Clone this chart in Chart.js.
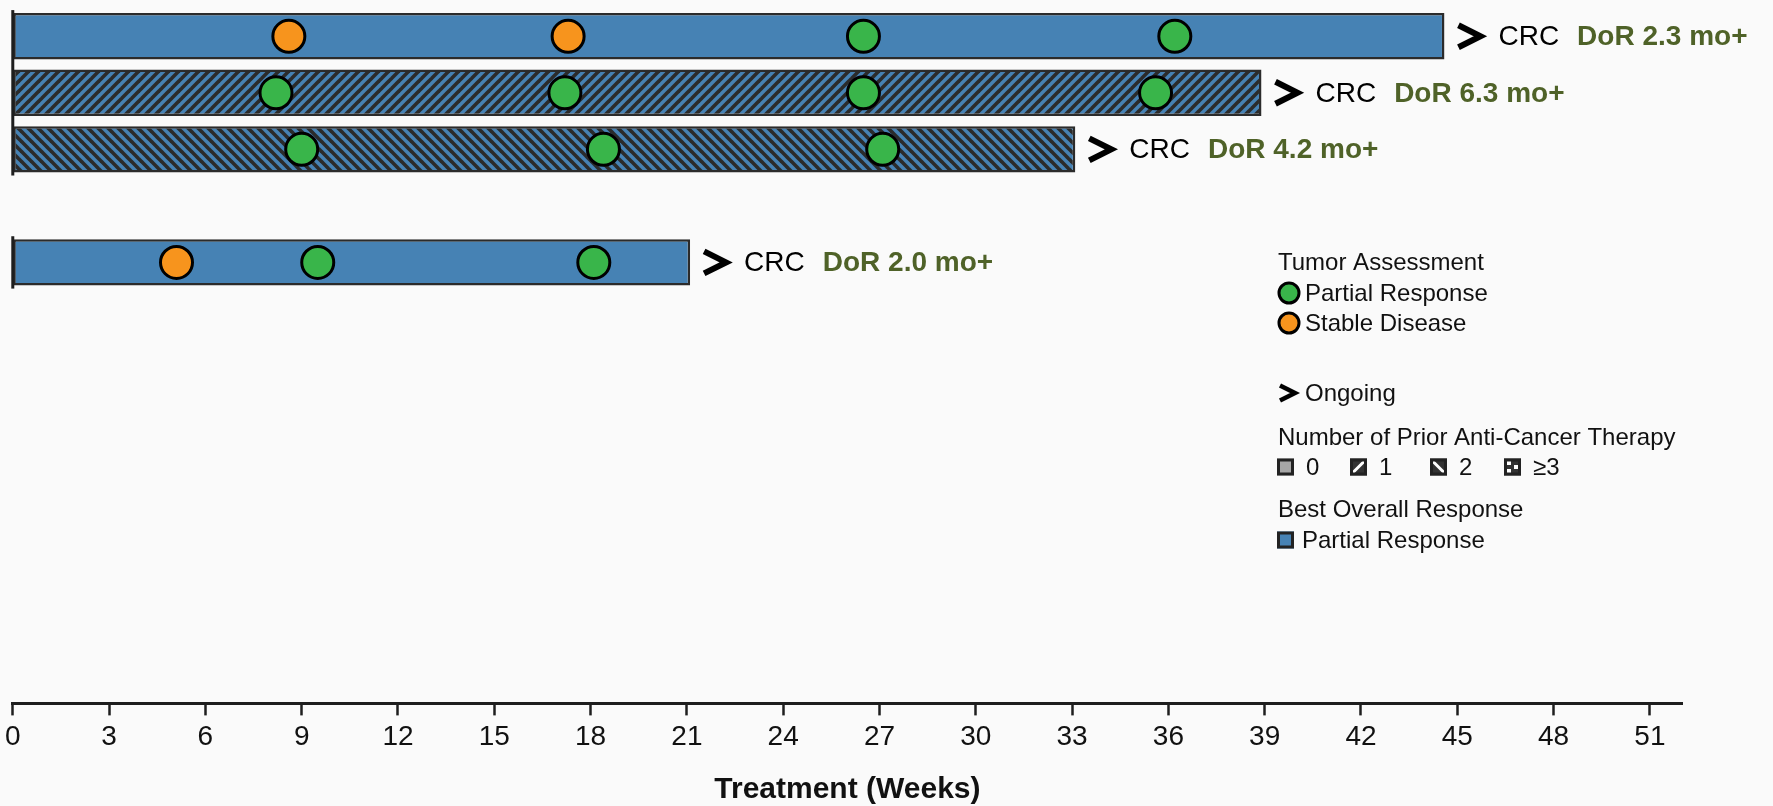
<!DOCTYPE html>
<html>
<head>
<meta charset="utf-8">
<script src="https://cdn.jsdelivr.net/npm/chart.js@4"></script>
<style>
  html, body { margin: 0; padding: 0; background: #fafafa; }
  #wrap { width: 1773px; height: 806px; position: relative; }
</style>
</head>
<body>
<div id="wrap"><canvas id="chartcanvas"></canvas></div>
<script>
// patient rows (row 4 is left empty in the original)
const rows = [1, 2, 3, 5];
const weeksOnTreatment = [44.6, 38.9, 33.1, 21.1];
const priorTherapies = [0, 1, 2, 0];
const tumorTypes = ["CRC", "CRC", "CRC", "CRC"];
const dorLabels = ["DoR 2.3 mo+", "DoR 6.3 mo+", "DoR 4.2 mo+", "DoR 2.0 mo+"];
const ongoing = [true, true, true, true];

// tumor assessments (weeks), one list per patient
const prWeeks = [[26.5, 36.2], [8.2, 17.2, 26.5, 35.6], [9.0, 18.4, 27.1], [9.5, 18.1]];
const sdWeeks = [[8.6, 17.3], [], [], [5.1]];

const xMax = 52;
const xStep = 3;

const FONT = "'Liberation Sans', Arial, sans-serif";
const BLUE = "rgb(70, 130, 180)";
const DARK = "#2b2b2b";
const GREEN = "#39b54a";
const ORANGE = "#f7941d";
const OLIVE = "#4f6228";

function hatch(dir) {
  const c = document.createElement("canvas");
  c.width = 10;
  c.height = 10;
  const g = c.getContext("2d");
  g.fillStyle = BLUE;
  g.fillRect(0, 0, 10, 10);
  g.strokeStyle = DARK;
  g.lineWidth = 3.6;
  for (const s of [-10, 0, 10]) {
    g.beginPath();
    if (dir === 1) {
      g.moveTo(s - 2, 12);
      g.lineTo(s + 12, -2);
    } else {
      g.moveTo(s - 2, -2);
      g.lineTo(s + 12, 12);
    }
    g.stroke();
  }
  return g.createPattern(c, "repeat");
}

const fills = priorTherapies.map((n) => (n === 0 ? BLUE : hatch(n)));

const prPoints = [];
const sdPoints = [];
prWeeks.forEach((list, i) => list.forEach((w) => prPoints.push({ x: w, y: rows[i] })));
sdWeeks.forEach((list, i) => list.forEach((w) => sdPoints.push({ x: w, y: rows[i] })));

function chevron(ctx, x, y, w, h, lw) {
  ctx.save();
  ctx.strokeStyle = "#000";
  ctx.lineWidth = lw;
  ctx.lineJoin = "miter";
  ctx.beginPath();
  ctx.moveTo(x, y - h / 2);
  ctx.lineTo(x + w, y);
  ctx.lineTo(x, y + h / 2);
  ctx.stroke();
  ctx.restore();
}

// left axis drawn only beside groups of bars
const leftLine = {
  id: "leftLine",
  afterDatasetsDraw(chart) {
    const ctx = chart.ctx;
    const bars = chart.getDatasetMeta(0).data;
    const x = chart.chartArea.left;
    let start = 0;
    ctx.save();
    ctx.strokeStyle = "#1e1e1e";
    ctx.lineWidth = 3;
    for (let i = 0; i < rows.length; i++) {
      if (i === rows.length - 1 || rows[i + 1] !== rows[i] + 1) {
        const top = bars[start].y - bars[start].height / 2 - 3;
        const bot = bars[i].y + bars[i].height / 2 + 3;
        ctx.beginPath();
        ctx.moveTo(x, top);
        ctx.lineTo(x, bot);
        ctx.stroke();
        start = i + 1;
      }
    }
    ctx.restore();
  },
};

const barLabels = {
  id: "barLabels",
  afterDatasetsDraw(chart) {
    const ctx = chart.ctx;
    const bars = chart.getDatasetMeta(0).data;
    ctx.save();
    ctx.textBaseline = "middle";
    bars.forEach((bar, i) => {
      let x = bar.x + 14;
      if (ongoing[i]) chevron(ctx, x, bar.y, 22, 22, 6);
      x += 40;
      ctx.font = "28px " + FONT;
      ctx.fillStyle = "#000";
      ctx.fillText(tumorTypes[i], x, bar.y + 1);
      x += ctx.measureText(tumorTypes[i]).width + 18;
      ctx.font = "bold 28px " + FONT;
      ctx.fillStyle = OLIVE;
      ctx.fillText(dorLabels[i], x, bar.y + 1);
    });
    ctx.restore();
  },
};

function swatch(ctx, x, y, kind) {
  const s = 17;
  ctx.save();
  ctx.fillStyle = kind === "0" ? "#a6a6a6" : kind === "pr" ? BLUE : "#333";
  ctx.fillRect(x, y - s / 2, s, s);
  ctx.beginPath();
  ctx.rect(x, y - s / 2, s, s);
  ctx.clip();
  ctx.strokeStyle = "#fff";
  ctx.fillStyle = "#fff";
  ctx.lineWidth = 3;
  if (kind === "1") {
    ctx.beginPath();
    ctx.moveTo(x + 2, y + s / 2 - 2);
    ctx.lineTo(x + s - 2, y - s / 2 + 2);
    ctx.stroke();
  } else if (kind === "2") {
    ctx.beginPath();
    ctx.moveTo(x + 2, y - s / 2 + 2);
    ctx.lineTo(x + s - 2, y + s / 2 - 2);
    ctx.stroke();
  } else if (kind === "3") {
    ctx.fillRect(x + 3, y - 6, 4, 4);
    ctx.fillRect(x + 10, y - 2, 4, 4);
    ctx.fillRect(x + 3, y + 2, 4, 4);
  }
  ctx.restore();
  ctx.save();
  ctx.strokeStyle = "#222";
  ctx.lineWidth = 3;
  ctx.strokeRect(x + 1.5, y - s / 2 + 1.5, s - 3, s - 3);
  ctx.restore();
}

const sideLegend = {
  id: "sideLegend",
  afterDraw(chart) {
    const ctx = chart.ctx;
    const lx = 1278;
    ctx.save();
    ctx.font = "24px " + FONT;
    ctx.fillStyle = "#111";
    ctx.textBaseline = "middle";

    ctx.fillText("Tumor Assessment", lx, 263);
    [[GREEN, "Partial Response", 293], [ORANGE, "Stable Disease", 323]].forEach(([c, t, y]) => {
      ctx.beginPath();
      ctx.arc(lx + 11, y, 10, 0, Math.PI * 2);
      ctx.fillStyle = c;
      ctx.fill();
      ctx.lineWidth = 3;
      ctx.strokeStyle = "#000";
      ctx.stroke();
      ctx.fillStyle = "#111";
      ctx.fillText(t, lx + 27, y + 1);
    });

    chevron(ctx, lx + 2, 393, 15, 15, 4.5);
    ctx.fillText("Ongoing", lx + 27, 394);

    ctx.fillText("Number of Prior Anti-Cancer Therapy", lx, 438);
    [["0", 1277, "0"], ["1", 1350, "1"], ["2", 1430, "2"], ["3", 1504, "\u22653"]].forEach(([k, x, t]) => {
      swatch(ctx, x, 467, k);
      ctx.fillStyle = "#111";
      ctx.fillText(t, x + 29, 468);
    });

    ctx.fillText("Best Overall Response", lx, 510);
    swatch(ctx, 1277, 540, "pr");
    ctx.fillStyle = "#111";
    ctx.fillText("Partial Response", lx + 24, 541);
    ctx.restore();
  },
};

const ctx = document.getElementById("chartcanvas");

const config = {
  type: "bar",
  data: {
    datasets: [
      {
        type: "bar",
        indexAxis: "y",
        data: rows.map((r, i) => ({ x: weeksOnTreatment[i], y: r })),
        backgroundColor: fills,
        borderColor: DARK,
        borderWidth: 2.5,
        borderSkipped: false,
        categoryPercentage: 1,
        barPercentage: 0.82,
        order: 2,
      },
      {
        type: "scatter",
        label: "Partial Response",
        data: prPoints,
        backgroundColor: GREEN,
        borderColor: "#000",
        borderWidth: 3,
        pointRadius: 16,
        order: 1,
      },
      {
        type: "scatter",
        label: "Stable Disease",
        data: sdPoints,
        backgroundColor: ORANGE,
        borderColor: "#000",
        borderWidth: 3,
        pointRadius: 16,
        order: 1,
      },
    ],
  },
  options: {
    responsive: true,
    maintainAspectRatio: false,
    animation: false,
    layout: { autoPadding: false, padding: { left: 12, right: 91, top: 8, bottom: -2 } },
    plugins: { legend: { display: false }, tooltip: { enabled: false } },
    scales: {
      x: {
        type: "linear",
        offset: false,
        min: 0,
        max: xMax,
        border: { display: true, color: "#1e1e1e", width: 3 },
        grid: {
          display: true,
          offset: false,
          drawOnChartArea: false,
          drawTicks: true,
          tickLength: 12,
          tickWidth: 2.5,
          tickColor: "#1e1e1e",
        },
        ticks: {
          stepSize: xStep,
          includeBounds: false,
          padding: 5,
          maxRotation: 0,
          autoSkip: false,
          color: "#111",
          font: { family: FONT, size: 28 },
        },
        title: {
          display: true,
          text: "Treatment (Weeks)",
          color: "#111",
          padding: { top: 13, bottom: 0 },
          font: { family: FONT, size: 30, weight: "bold" },
        },
      },
      y: {
        type: "linear",
        display: false,
        offset: false,
        reverse: true,
        min: 0.5,
        max: 12.8,
        ticks: { stepSize: 1, includeBounds: false },
        grid: { offset: false },
      },
    },
  },
  plugins: [leftLine, barLabels, sideLegend],
};

const chart = new Chart(ctx, config);
</script>
</body>
</html>
